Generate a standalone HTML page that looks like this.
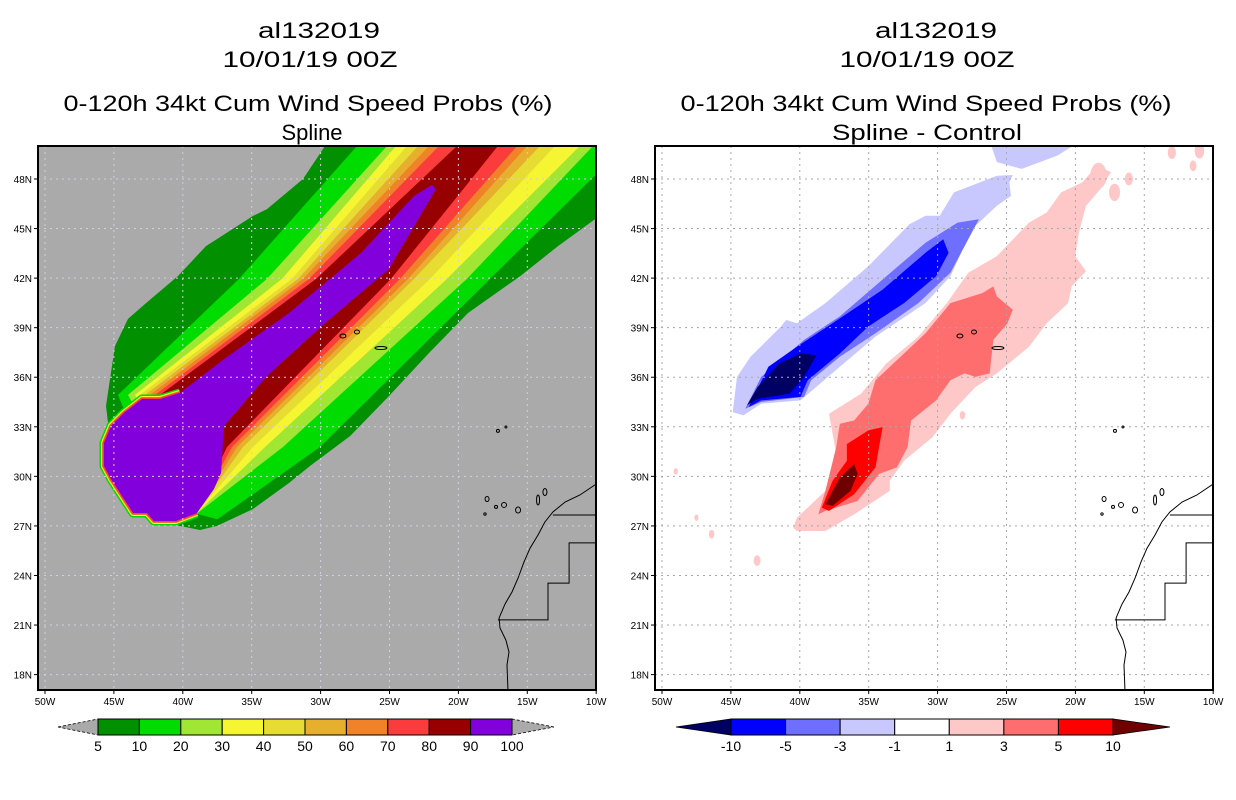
<!DOCTYPE html>
<html><head><meta charset="utf-8"><style>
html,body{margin:0;padding:0;background:#fff;}
svg{display:block;font-family:"Liberation Sans",sans-serif;}
</style></head><body>
<svg id="root" width="1236" height="800" viewBox="0 0 1236 800" xmlns="http://www.w3.org/2000/svg">
<defs>
<clipPath id="clipL"><rect x="38" y="146" width="558" height="544"/></clipPath>
<clipPath id="clipR"><rect x="655" y="146" width="558" height="544"/></clipPath>
</defs>
<g font-size="22" text-anchor="middle" fill="#000">
<text x="319" y="38" textLength="122" lengthAdjust="spacingAndGlyphs">al132019</text>
<text x="310" y="67" textLength="175" lengthAdjust="spacingAndGlyphs">10/01/19 00Z</text>
<text x="308" y="111" textLength="489" lengthAdjust="spacingAndGlyphs">0-120h 34kt Cum Wind Speed Probs (%)</text>
<text x="312" y="140" textLength="61" lengthAdjust="spacingAndGlyphs">Spline</text>
</g>
<g font-size="22" text-anchor="middle" fill="#000">
<text x="936" y="38" textLength="122" lengthAdjust="spacingAndGlyphs">al132019</text>
<text x="927" y="67" textLength="175" lengthAdjust="spacingAndGlyphs">10/01/19 00Z</text>
<text x="926" y="111" textLength="491" lengthAdjust="spacingAndGlyphs">0-120h 34kt Cum Wind Speed Probs (%)</text>
<text x="927" y="140" textLength="190" lengthAdjust="spacingAndGlyphs">Spline - Control</text>
</g>
<rect x="38" y="146" width="558" height="544" fill="#aaaaaa"/>
<g id="leftFill" clip-path="url(#clipL)"></g>
<g id="rightFill" clip-path="url(#clipR)"></g>
<g id="grids"></g>
<g id="coasts"></g>
<rect x="38" y="146" width="558" height="544" fill="none" stroke="#000" stroke-width="2"/>
<rect x="655" y="146" width="558" height="544" fill="none" stroke="#000" stroke-width="2"/>
<g id="axes" font-size="10" fill="#000"></g>
<g id="cbars"></g>
</svg>
<script>
// ---------- data ----------
const lonTicks = [-50,-45,-40,-35,-30,-25,-20,-15,-10];
const lonTickLabels = ['50W','45W','40W','35W','30W','25W','20W','15W','10W'];
const latTicks = [18,21,24,27,30,33,36,39,42,45,48];
const latTickLabels = ['18N','21N','24N','27N','30N','33N','36N','39N','42N','45N','48N'];

const darkGreenSwath = [[-27.0,54.0],[-29.68,50.0],[-31.28,48.0],[-33.89,46.18],[-34.91,45.76],[-38.32,43.94],[-40.35,42.13],[-42.67,40.49],[-43.98,39.53],[-44.92,37.89],[-45.28,35.89],[-45.57,34.26],[-45.43,33.23],[-44.92,30.39],[-42.38,27.66],[-40.57,27.06],[-38.75,26.75],[-37.52,27.0],[-34.91,28.02],[-32.29,29.60],[-30.77,30.63],[-27.87,32.44],[-25.04,34.86],[-22.13,37.47],[-19.30,39.89],[-15.50,42.13],[-12.77,43.94],[-9.87,45.7],[-2.47,52.78],[-2.0,54.0]];
const bandColors = ['#00dc00','#a0e632','#f5f532','#e6dc32','#e6af2d','#f08228','#fa3c3c','#960000'];
const bandNames = ['band-10-20','band-20-30','band-30-40','band-40-50','band-50-60','band-60-70','band-70-80','band-80-90'];
const westTop = [-27.36,-25.18,-24.53,-23.73,-22.93,-22.13,-21.41,-20.10];
const westMid = [-35.92,-33.89,-32.80,-32.08,-31.64,-31.28,-30.84,-30.33];
const westLow = [-44.70,-43.98,-43.47,-43.11,-42.74,-42.38,-42.02,-41.65];
const eastTop = [-7.91,-10.23,-11.18,-12.99,-14.08,-15.02,-15.75,-17.13];
const eastMid = [-17.71,-19.38,-20.83,-22.06,-23.22,-23.66,-24.24,-24.89];
const eastLow = [-30.04,-32.73,-34.03,-34.91,-35.63,-36.07,-36.43,-36.79];
const latTopRef = 50.0, latMidRef = 41.95, latLowW = 34.93, latLowE = 31.78;
const purpleCore = [[-21.92,47.64],[-21.63,47.39],[-25.04,42.55],[-29.68,39.28],[-33.89,36.08],[-37.01,33.05],[-37.23,30.20],[-37.74,29.23],[-38.97,27.78],[-40.49,27.30],[-42.09,27.30],[-42.60,27.78],[-43.61,27.78],[-44.27,28.63],[-45.21,29.84],[-45.72,30.63],[-45.72,32.02],[-45.21,33.05],[-44.27,33.84],[-42.96,34.68],[-41.65,34.68],[-40.20,35.05],[-37.01,37.10],[-32.29,39.89],[-27.07,43.52],[-23.22,46.97]];

const diffLightBlue = [[-44.87,33.89],[-44.56,36.02],[-43.58,37.24],[-41.37,39.07],[-40.99,39.47],[-40.21,39.27],[-38.14,40.49],[-35.03,42.72],[-32.05,45.26],[-30.88,45.77],[-29.85,45.77],[-28.81,47.19],[-25.70,48.20],[-24.54,48.24],[-24.80,47.80],[-24.67,46.98],[-25.70,46.38],[-27.52,44.96],[-28.29,43.53],[-29.07,42.11],[-30.88,40.49],[-34.51,38.46],[-37.10,36.63],[-39.95,34.60],[-42.80,34.40],[-44.09,33.69]];
const diffLightBlueTop = [[-26.48,50.1],[-20.0,50.1],[-21.30,49.42],[-23.89,48.61],[-25.70,49.02],[-26.1,50.0]];
const diffMedBlue = [[-43.96,34.09],[-42.80,36.02],[-39.69,38.26],[-37.10,39.68],[-34.00,41.91],[-30.88,44.14],[-28.55,45.36],[-27.00,45.56],[-28.04,43.94],[-29.07,42.32],[-31.40,40.49],[-34.51,38.66],[-37.10,37.24],[-39.17,35.82],[-39.69,34.81],[-42.80,34.50]];
const diffBlue = [[-43.71,34.20],[-42.28,36.63],[-40.21,37.85],[-37.62,39.27],[-34.00,41.30],[-30.88,43.53],[-29.59,44.35],[-29.20,43.53],[-30.11,42.11],[-32.44,40.49],[-35.03,39.07],[-37.10,37.44],[-39.43,35.82],[-39.95,34.81],[-42.80,34.60]];
const diffNavy = [[-43.83,34.30],[-43.06,35.41],[-41.50,36.83],[-39.95,37.44],[-38.78,37.34],[-39.69,36.02],[-40.73,35.01],[-43.06,34.70]];
const diffPink = [[-40.47,26.89],[-40.21,27.50],[-38.14,29.12],[-37.36,31.35],[-37.88,33.79],[-35.55,35.01],[-33.73,36.83],[-31.40,38.46],[-29.33,40.49],[-27.78,42.32],[-25.70,43.33],[-23.37,45.36],[-22.08,45.97],[-21.04,47.19],[-19.49,47.80],[-18.45,48.81],[-17.42,48.41],[-18.19,47.39],[-19.23,46.38],[-19.75,44.75],[-20.01,43.33],[-19.23,42.42],[-20.27,41.50],[-20.53,40.49],[-22.08,39.27],[-23.37,37.85],[-25.70,36.23],[-27.26,35.41],[-29.07,33.79],[-30.37,32.37],[-32.44,30.95],[-33.47,29.73],[-33.47,29.12],[-36.06,27.70],[-38.14,26.69],[-40.21,26.69]];
const diffSalmon = [[-37.10,33.18],[-36.06,33.38],[-35.03,34.40],[-34.51,35.82],[-32.44,37.44],[-30.88,38.66],[-29.07,40.49],[-26.74,41.10],[-25.96,41.50],[-25.70,40.89],[-24.54,40.08],[-24.93,39.27],[-25.96,38.26],[-26.22,36.23],[-27.26,36.02],[-28.04,36.23],[-29.07,35.82],[-30.11,34.60],[-31.92,33.38],[-32.18,31.76],[-32.96,30.54],[-34.25,30.14],[-35.81,28.51],[-38.14,27.91],[-38.66,27.70],[-38.14,29.12],[-37.36,31.76]];
const diffRed = [[-36.58,31.96],[-35.80,32.37],[-35.03,32.78],[-33.99,32.98],[-34.25,31.76],[-34.51,30.54],[-36.06,28.92],[-37.88,27.91],[-38.40,28.11],[-37.62,29.73],[-36.58,30.95]];
const diffDarkRed = [[-38.14,28.31],[-37.10,29.93],[-36.06,30.75],[-35.80,30.14],[-36.32,29.12],[-37.62,28.21]];
const pinkPatchLon = [-18.32,-17.16,-16.12,-13.0,-11.46,-11.0,-49.0,-47.5,-46.4,-43.1,-28.2,-24.2];
const pinkPatchLat = [48.2,47.19,48.0,49.6,48.8,49.7,30.3,27.5,26.5,24.9,33.7,39.9];
const pinkPatchR = [0.6,0.4,0.3,0.3,0.25,0.35,0.15,0.15,0.2,0.25,0.2,0.15];

const coastLine = [[-10.0,29.54],[-11.18,28.87],[-12.26,28.45],[-13.14,27.84],[-13.72,27.24],[-14.22,26.45],[-14.80,25.66],[-15.24,24.82],[-15.67,23.85],[-16.11,23.0],[-16.62,22.27],[-17.05,21.43],[-16.98,20.82],[-16.55,20.09],[-16.33,19.37],[-16.47,18.58],[-16.40,17.0]];
const borderA = [[-13.14,27.66],[-10.0,27.66]];
const borderB = [[-10.0,25.97],[-11.97,25.97],[-11.97,23.54],[-13.5,23.54],[-13.5,21.31],[-17.13,21.31]];
const islandLon = [-28.38,-27.36,-25.62,-17.13,-16.55,-17.92,-18.07,-17.27,-16.69,-15.67,-14.22,-13.72];
const islandLat = [38.50,38.74,37.77,32.75,32.99,28.63,27.72,28.15,28.27,27.96,28.57,29.05];
const islandRx = [3,2.5,6,1.5,1,2,1.2,1.5,2.5,2.5,1.5,2];
const islandRy = [2,2,1.5,1.5,1,2.5,1.2,1.5,2.5,3,5,3.5];

const probLevels = ['5','10','20','30','40','50','60','70','80','90','100'];
const probColors = ['#009000','#00dc00','#a0e632','#f5f532','#e6dc32','#e6af2d','#f08228','#fa3c3c','#960000','#8200dc'];
const diffLevels = ['-10','-5','-3','-1','1','3','5','10'];
const diffColors = ['#0000ff','#6e6eff','#c8c8ff','#ffffff','#ffc8c8','#ff6e6e','#ff0000'];

// ---------- helpers ----------
const NS='http://www.w3.org/2000/svg';
const LX=38, RX=655;
function lonX(lon,ox){return ox+7+(lon+50)*13.78;}
function latY(lat){return 179+(48-lat)*16.52;}
function pts(arr,ox){return arr.map(p=>lonX(p[0],ox).toFixed(1)+','+latY(p[1]).toFixed(1)).join(' ');}
function mk(tag,attrs,parent){const e=document.createElementNS(NS,tag);for(const k in attrs)e.setAttribute(k,attrs[k]);parent.appendChild(e);return e;}

// ---------- left panel ----------
const leftFill=document.getElementById('leftFill');
let dg=mk('polygon',{points:pts(darkGreenSwath,LX),fill:'#009000'},leftFill);


function extrap(top,mid,lat){return top+(top-mid)*(lat-latTopRef)/(latTopRef-latMidRef);}
for(let i=0;i<bandColors.length;i++){
  const poly=[[extrap(westTop[i],westMid[i],56),56],[westTop[i],latTopRef],[westMid[i],latMidRef],[westLow[i],latLowW]];
  if(i===0){poly.push([-41.5,28.3]);poly.push([-37.5,27.4]);}
  else{poly.push([-39.2,27.6]);}
  poly.push([eastLow[i],latLowE],[eastMid[i],latMidRef],[eastTop[i],latTopRef],[extrap(eastTop[i],eastMid[i],56),56]);
  const p=mk('polygon',{points:pts(poly,LX),fill:bandColors[i]},leftFill);
  
  
}
const ringPts=purpleCore.slice(8,22);
[['#00dc00',9],['#f5f532',6],['#f08228',4],['#fa3c3c',2.5]].forEach(s=>{
  const r=mk('polyline',{points:pts(ringPts,LX),fill:'none',stroke:s[0],'stroke-width':s[1],'stroke-linejoin':'round'},leftFill);
  
  
});
const pc=mk('polygon',{points:pts(purpleCore,LX),fill:'#8200dc'},leftFill);



// ---------- right panel ----------
const rightFill=document.getElementById('rightFill');
const rshapes=[[diffLightBlue,'#c8c8ff','diff-minus1-to-minus3'],[diffLightBlueTop,'#c8c8ff','diff-minus1-patch'],[diffMedBlue,'#6e6eff','diff-minus3-to-minus5'],[diffBlue,'#0000ff','diff-minus5-to-minus10'],[diffNavy,'#000064','diff-below-minus10'],[diffPink,'#ffc8c8','diff-1-to-3'],[diffSalmon,'#ff6e6e','diff-3-to-5'],[diffRed,'#ff0000','diff-5-to-10'],[diffDarkRed,'#6e0000','diff-above-10']];
rshapes.forEach(s=>{
  const p=mk('polygon',{points:pts(s[0],RX),fill:s[1]},rightFill);
  
  
});
for(let i=0;i<pinkPatchLon.length;i++){
  const e=mk('ellipse',{cx:lonX(pinkPatchLon[i],RX),cy:latY(pinkPatchLat[i]),rx:pinkPatchR[i]*13.78,ry:pinkPatchR[i]*16.52*1.3,fill:'#ffc8c8'},rightFill);
  
  
}

// ---------- grids ----------
const grids=document.getElementById('grids');
[[LX,'#d0d0e0','url(#clipL)'],[RX,'#a8a8a8','url(#clipR)']].forEach(g=>{
  const ox=g[0];
  lonTicks.forEach(lon=>{
    const x=lonX(lon,ox);
    const l=mk('line',{x1:x,x2:x,y1:146,y2:690,stroke:g[1],'stroke-width':1,'stroke-dasharray':'2,4','clip-path':g[2]},grids);
    
    
  });
  latTicks.forEach(lat=>{
    const y=latY(lat);
    const l=mk('line',{x1:ox,x2:ox+558,y1:y,y2:y,stroke:g[1],'stroke-width':1,'stroke-dasharray':'2,4'},grids);
    
    
  });
});

// ---------- coasts ----------
const coasts=document.getElementById('coasts');
[[LX,'url(#clipL)'],[RX,'url(#clipR)']].forEach(c=>{
  const ox=c[0];
  [coastLine,borderA,borderB].forEach((ln,j)=>{
    const p=mk('polyline',{points:pts(ln,ox),fill:'none',stroke:'#000','stroke-width':1,'clip-path':c[1]},coasts);
    
    
  });
  for(let i=0;i<islandLon.length;i++){
    const e=mk('ellipse',{cx:lonX(islandLon[i],ox),cy:latY(islandLat[i]),rx:islandRx[i],ry:islandRy[i],fill:'none',stroke:'#000','stroke-width':1},coasts);
    
    
  }
});

// ---------- axes ----------
const axes=document.getElementById('axes');
[LX,RX].forEach(ox=>{
  lonTicks.forEach((lon,i)=>{
    const x=lonX(lon,ox);
    const tk=mk('line',{x1:x,x2:x,y1:690,y2:694,stroke:'#000','stroke-width':1},axes);
    
    
    const t=mk('text',{x:x,y:705,'text-anchor':'middle'},axes);
    t.textContent=lonTickLabels[i];
    
    
  });
  latTicks.forEach((lat,i)=>{
    const y=latY(lat);
    const tk=mk('line',{x1:ox-4,x2:ox,y1:y,y2:y,stroke:'#000','stroke-width':1},axes);
    
    
    const t=mk('text',{x:ox-6,y:y+4,'text-anchor':'end'},axes);
    t.textContent=latTickLabels[i];
    
    
  });
});

// ---------- colorbars ----------
const cb=document.getElementById('cbars');
function colorbar(x0,x1,tl,tr,cols,levels,lcol,rcol,name){
  const n=cols.length, w=(x1-x0)/n, y0=719, y1=735, ym=727;
  const a=mk('polygon',{points:`${tl},${ym} ${x0},${y0} ${x0},${y1}`,fill:lcol,stroke:'#000','stroke-width':0.8,'stroke-dasharray':lcol==='#aaaaaa'?'3,2':'none'},cb);
  
  
  const b=mk('polygon',{points:`${tr},${ym} ${x1},${y0} ${x1},${y1}`,fill:rcol,stroke:'#000','stroke-width':0.8,'stroke-dasharray':rcol==='#aaaaaa'?'3,2':'none'},cb);
  
  
  for(let i=0;i<n;i++){
    const r=mk('rect',{x:x0+i*w,y:y0,width:w,height:y1-y0,fill:cols[i],stroke:'#000','stroke-width':1},cb);
    
    
  }
  levels.forEach((lv,i)=>{
    const t=mk('text',{x:x0+i*w,y:751,'text-anchor':'middle','font-size':14,fill:'#000'},cb);
    t.textContent=lv;
    
    
  });
}
colorbar(98,512,58,554,probColors,probLevels,'#aaaaaa','#aaaaaa','prob-colorbar');
colorbar(731,1113,676,1170,diffColors,diffLevels,'#000064','#6e0000','diff-colorbar');
</script>
</body></html>
